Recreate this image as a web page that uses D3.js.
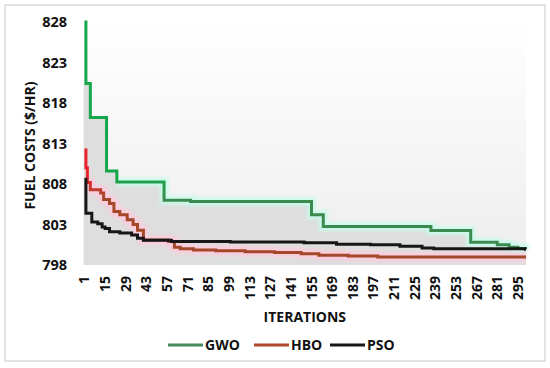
<!DOCTYPE html>
<html>
<head>
<meta charset="utf-8">
<script src="https://cdn.jsdelivr.net/npm/d3@7"></script>
<style>
  body { margin: 0; background: #fff; }
  text { font-family: "Open Sans", sans-serif; font-weight: 700; fill: #111; }
</style>
</head>
<body>
<svg id="chart" width="550" height="368"></svg>
<script>
// data (iteration where a new best value starts, cost)
const gwoIter = [1, 2, 5, 16, 23, 55, 73, 155, 163, 236, 263, 281, 289, 295, 300];
const gwoCost = [828, 820.4, 816.2, 809.6, 808.25, 806.0, 805.85, 804.2, 802.75, 802.25, 800.8, 800.5, 800.2, 800.05, 800.0];

const hboIter = [1, 2, 3, 5, 12, 14, 18, 21, 25, 30, 34, 37, 41, 58, 62, 66, 75, 90, 110, 130, 148, 160, 180, 200, 300];
const hboCost = [812.2, 810.0, 808.2, 807.3, 806.9, 806.1, 805.6, 804.6, 804.2, 803.6, 803.0, 802.3, 801.1, 800.9, 800.2, 800.0, 799.85, 799.75, 799.65, 799.55, 799.4, 799.2, 799.1, 799.0, 799.0];

const psoIter = [1, 2, 6, 10, 13, 15, 18, 25, 33, 37, 41, 60, 100, 150, 172, 195, 215, 230, 238, 300];
const psoCost = [808.6, 804.4, 803.3, 803.1, 802.7, 802.5, 802.1, 801.95, 801.7, 801.3, 801.05, 800.9, 800.85, 800.75, 800.55, 800.5, 800.3, 800.1, 800.0, 799.95];

const xTickLabels = [1, 15, 29, 43, 57, 71, 85, 99, 113, 127, 141, 155, 169, 183, 197, 211, 225, 239, 253, 267, 281, 295];
const yTickLabels = [798, 803, 808, 813, 818, 823, 828];
const seriesNames = ['GWO', 'HBO', 'PSO'];

const plot = { left: 83.7, right: 526, top: 22, bottom: 265 };

const svg = d3.select('#chart');
const defs = svg.append('defs');

// outer frame
svg.append('rect')
    .attr('x', 5).attr('y', 5).attr('width', 540).attr('height', 356)
    .attr('fill', '#fff').attr('stroke', '#d9d9d9').attr('stroke-width', 1.5);

const x = d3.scaleLinear().domain([0.5, 300.5]).range([plot.left, plot.right]);
const y = d3.scaleLinear().domain([798, 828]).range([plot.bottom, plot.top]);

// plot background gradient
const bg = defs.append('linearGradient').attr('id', 'bg')
    .attr('x1', 0).attr('y1', 0).attr('x2', 0).attr('y2', 1);
bg.append('stop').attr('offset', 0).attr('stop-color', '#ffffff');
bg.append('stop').attr('offset', 1).attr('stop-color', '#ededed');
svg.append('rect')
    .attr('x', plot.left).attr('y', plot.top)
    .attr('width', plot.right - plot.left).attr('height', plot.bottom - plot.top)
    .attr('fill', 'url(#bg)');

// line colour gradients (bright near top, duller lower down)
function lineGrad(id, top, low) {
    const g = defs.append('linearGradient').attr('id', id)
        .attr('gradientUnits', 'userSpaceOnUse')
        .attr('x1', 0).attr('y1', plot.top).attr('x2', 0).attr('y2', plot.bottom);
    g.append('stop').attr('offset', 0).attr('stop-color', top);
    g.append('stop').attr('offset', 0.64).attr('stop-color', top);
    g.append('stop').attr('offset', 0.72).attr('stop-color', low);
    g.append('stop').attr('offset', 1).attr('stop-color', low);
}
lineGrad('gwoGrad', '#17a64b', '#3d8a50');
lineGrad('hboGrad', '#e8232b', '#a4482a');

defs.append('filter').attr('id', 'blur')
    .attr('x', '-10%').attr('y', '-10%').attr('width', '120%').attr('height', '120%')
    .append('feGaussianBlur').attr('stdDeviation', 1.5);

const series = [
    { name: seriesNames[0], iter: gwoIter, cost: gwoCost, stroke: 'url(#gwoGrad)', legend: '#46895a', glow: '#c8fbea' },
    { name: seriesNames[1], iter: hboIter, cost: hboCost, stroke: 'url(#hboGrad)', legend: '#ad4a2c', glow: '#ffc9dd' },
    { name: seriesNames[2], iter: psoIter, cost: psoCost, stroke: '#161616', legend: '#161616', glow: null }
];
series.forEach(s => {
    s.pts = s.iter.map((it, i) => [it, s.cost[i]]);
    s.pts.push([300.5, s.cost[s.cost.length - 1]]);
});

// grey area under the GWO curve
const area = d3.area()
    .x(d => x(d[0])).y0(y(798)).y1(d => y(d[1]))
    .curve(d3.curveStepAfter);
svg.append('path')
    .datum([[0.5, gwoCost[1]]].concat(series[0].pts.slice(1)))
    .attr('d', area)
    .attr('fill', '#dedede');

const line = d3.line()
    .x(d => x(d[0])).y(d => y(d[1]))
    .curve(d3.curveStepAfter);

// soft glows
series.filter(s => s.glow).forEach(s => {
    svg.append('path')
        .datum(s.pts.filter(d => d[1] < 808.5))
        .attr('d', line)
        .attr('fill', 'none')
        .attr('stroke', s.glow)
        .attr('stroke-width', 9)
        .attr('opacity', 0.85)
        .attr('filter', 'url(#blur)');
});

series.forEach(s => {
    svg.append('path')
        .datum(s.pts)
        .attr('d', line)
        .attr('fill', 'none')
        .attr('stroke', s.stroke)
        .attr('stroke-width', 3)
        .attr('stroke-linejoin', 'miter');
});

// y axis labels
svg.append('g').selectAll('text')
    .data(yTickLabels)
    .join('text')
    .attr('x', 67)
    .attr('y', d => y(d))
    .attr('dy', '0.36em')
    .attr('text-anchor', 'end')
    .attr('font-size', 14.5)
    .text(d => d);

// x axis labels (rotated)
svg.append('g').selectAll('text')
    .data(xTickLabels)
    .join('text')
    .attr('transform', d => `translate(${x(d)}, 276) rotate(-90)`)
    .attr('dy', '0.36em')
    .attr('text-anchor', 'end')
    .attr('font-size', 14)
    .text(d => d);

// axis titles
svg.append('text')
    .attr('x', (plot.left + plot.right) / 2)
    .attr('y', 322)
    .attr('text-anchor', 'middle')
    .attr('font-size', 14)
    .text('ITERATIONS');

svg.append('text')
    .attr('transform', `translate(35, ${(plot.top + plot.bottom) / 2 + 2}) rotate(-90)`)
    .attr('text-anchor', 'middle')
    .attr('font-size', 14)
    .text('FUEL COSTS ($/HR)');

// legend
const legendX = [168, 254, 330];
const legend = svg.append('g');
series.forEach((s, i) => {
    const g = legend.append('g').attr('transform', `translate(${legendX[i]}, 345)`);
    if (s.glow) {
        g.append('line').attr('x1', 0).attr('x2', 35)
            .attr('stroke', s.glow).attr('stroke-width', 10).attr('opacity', 0.8)
            .attr('filter', 'url(#blur)');
    }
    g.append('line').attr('x1', 0).attr('x2', 35)
        .attr('stroke', s.legend).attr('stroke-width', 3);
    g.append('text').attr('x', 37).attr('dy', '0.36em')
        .attr('font-size', 14).text(s.name);
});
</script>
</body>
</html>
